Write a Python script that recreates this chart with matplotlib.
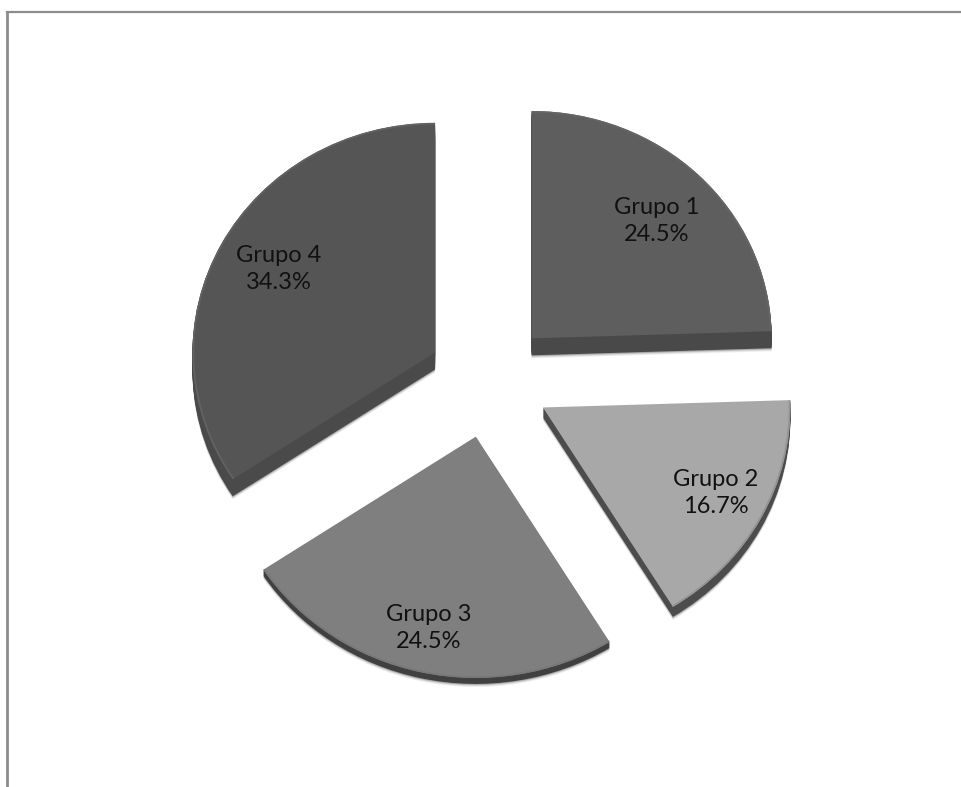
import matplotlib
matplotlib.use("Agg")
import matplotlib.pyplot as plt

categories = ["Grupo 1", "Grupo 2", "Grupo 3", "Grupo 4"]
values = [24.5, 16.7, 24.5, 34.3]

top_colors = ["#5e5e5e", "#a8a8a8", "#7f7f7f", "#555555"]
side_colors = ["#494949", "#4c4c4c", "#404040", "#4a4a4a"]
rim_colors = ["#666666", "#949494", "#787878", "#636363"]
radius_scale = [0.98, 1.01, 1.04, 0.99]
depths_px = [17, 10, 6, 17]
label_px = [(657, 221), (716, 493), (429, 628), (279, 269)]
explode = [0.25, 0.25, 0.25, 0.25]

W, H = 962, 787
CX, CY, RX, RY = 489, 380, 245, 232

fig = plt.figure(figsize=(W / 100, H / 100), dpi=100)
ax = fig.add_axes([0, 0, 1, 1])


def draw(offset_px, colors, zorder, **kw):
    wedges, _ = ax.pie(values, colors=colors, explode=explode, startangle=90,
                       counterclock=False, center=(0, -offset_px / RY),
                       wedgeprops=kw, normalize=True)
    for i, w in enumerate(wedges):
        w.set_zorder(zorder)
        w.set_radius(radius_scale[i])
    return wedges


# faint drop shadow under the extrusion
for extra, tone in ((3, "#ececec"), (2, "#d4d4d4"), (1, "#aaaaaa")):
    for i, w in enumerate(draw(0, [tone] * 4, 0, linewidth=0)):
        w.set_center((w.center[0], w.center[1] - (depths_px[i] + extra) / RY))

# extrusion
for d in range(max(depths_px), 0, -1):
    for i, w in enumerate(draw(d, side_colors, 1, linewidth=0)):
        w.set_visible(d <= depths_px[i])

# top faces
draw(0, top_colors, 2, linewidth=0)

# bevelled outer rim of the top faces
for i, w in enumerate(draw(0, rim_colors, 3, linewidth=0)):
    w.set_width(0.007)

ax.set_aspect("auto")
ax.set_xlim(-CX / RX, (W - CX) / RX)
ax.set_ylim(-(H - CY) / RY, CY / RY)
ax.axis("off")

for (px, py), c, v in zip(label_px, categories, values):
    ax.text(px / W, 1 - py / H, f"{c}\n{v}%", transform=ax.transAxes, ha="center", va="center",
            fontsize=17, family="Lato", color="#111111", linespacing=1.33, zorder=5)

# partial frame: top and left only
border = "#8c8c8c"
fig.add_artist(plt.Line2D([7.5 / W, 1], [1 - 12 / H, 1 - 12 / H], color=border, lw=1.6,
                          transform=fig.transFigure))
fig.add_artist(plt.Line2D([7.5 / W, 7.5 / W], [0, 1 - 12 / H], color=border, lw=2.0,
                          transform=fig.transFigure))

fig.savefig("out.png", dpi=100, facecolor="white")
